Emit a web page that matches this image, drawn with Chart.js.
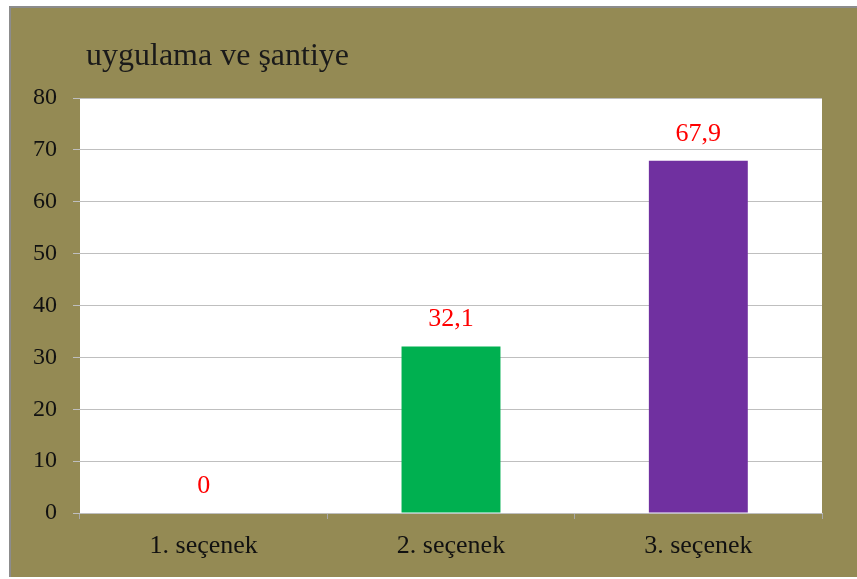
<!DOCTYPE html>
<html>
<head>
<meta charset="utf-8">
<script src="https://cdn.jsdelivr.net/npm/chart.js@4/dist/chart.umd.min.js"></script>
<style>
  html, body { margin: 0; padding: 0; background: #ffffff; }
  #wrap { width: 857px; height: 579px; }
</style>
</head>
<body>
<div id="wrap"><canvas id="barChart"></canvas></div>
<script>
const chartTitle = 'uygulama ve şantiye';
const categories = ['1. seçenek', '2. seçenek', '3. seçenek'];
const values = [0, 32.1, 67.9];
const barColors = ['#00B050', '#00B050', '#7030A0'];
const yTicks = [0, 10, 20, 30, 40, 50, 60, 70, 80];

const serif = 'Liberation Serif';

// olive frame, white plot area, title
const framePlugin = {
    id: 'frame',
    beforeDraw(chart) {
        const ctx = chart.ctx;
        const a = chart.chartArea;
        ctx.save();
        ctx.fillStyle = '#ffffff';
        ctx.fillRect(0, 0, chart.width, chart.height);
        ctx.fillStyle = '#948A54';
        ctx.fillRect(10, 7, chart.width - 10, chart.height - 9);
        ctx.strokeStyle = '#8c8c8c';
        ctx.lineWidth = 2;
        ctx.beginPath();
        ctx.moveTo(10, chart.height - 2);
        ctx.lineTo(10, 7);
        ctx.lineTo(chart.width, 7);
        ctx.stroke();
        ctx.fillStyle = '#ffffff';
        ctx.fillRect(a.left, a.top, a.right - a.left, a.bottom - a.top);
        ctx.restore();
    },
    afterDraw(chart) {
        const ctx = chart.ctx;
        ctx.save();
        ctx.fillStyle = '#1a1a1a';
        ctx.font = '32px "' + serif + '"';
        ctx.textBaseline = 'alphabetic';
        ctx.fillText(chartTitle, chart.chartArea.left + 6, 65);
        ctx.restore();
    }
};

// value labels above bars
const valueLabels = {
    id: 'valueLabels',
    afterDatasetsDraw(chart) {
        const ctx = chart.ctx;
        const meta = chart.getDatasetMeta(0);
        ctx.save();
        ctx.fillStyle = '#FF0000';
        ctx.font = '26px "' + serif + '"';
        ctx.textAlign = 'center';
        ctx.textBaseline = 'middle';
        meta.data.forEach((bar, i) => {
            ctx.fillText(String(values[i]).replace('.', ','), bar.x, bar.y - 27);
        });
        ctx.restore();
    }
};

new Chart(document.getElementById('barChart'), {
    type: 'bar',
    data: {
        labels: categories,
        datasets: [{
            data: values,
            backgroundColor: barColors,
            barPercentage: 0.4,
            categoryPercentage: 1
        }]
    },
    options: {
        responsive: true,
        maintainAspectRatio: false,
        animation: false,
        layout: {
            padding: { top: 98, right: 35, left: 20, bottom: 0 }
        },
        plugins: {
            legend: { display: false },
            tooltip: { enabled: false },
            title: { display: false }
        },
        scales: {
            x: {
                afterFit(scale) { scale.height = 66; },
                grid: {
                    drawOnChartArea: false,
                    color: '#a8a8a8',
                    tickLength: 6
                },
                border: { display: true, color: '#bfbfbf' },
                ticks: {
                    color: '#111111',
                    padding: 12,
                    font: { family: serif, size: 26 }
                }
            },
            y: {
                min: 0,
                max: 80,
                afterFit(scale) { scale.width = 60; },
                afterBuildTicks(scale) {
                    scale.ticks = yTicks.map(v => ({ value: v }));
                },
                grid: {
                    color: '#bfbfbf',
                    tickLength: 7
                },
                border: { display: false },
                ticks: {
                    color: '#111111',
                    padding: 16,
                    font: { family: serif, size: 24 }
                }
            }
        }
    },
    plugins: [framePlugin, valueLabels]
});
</script>
</body>
</html>
